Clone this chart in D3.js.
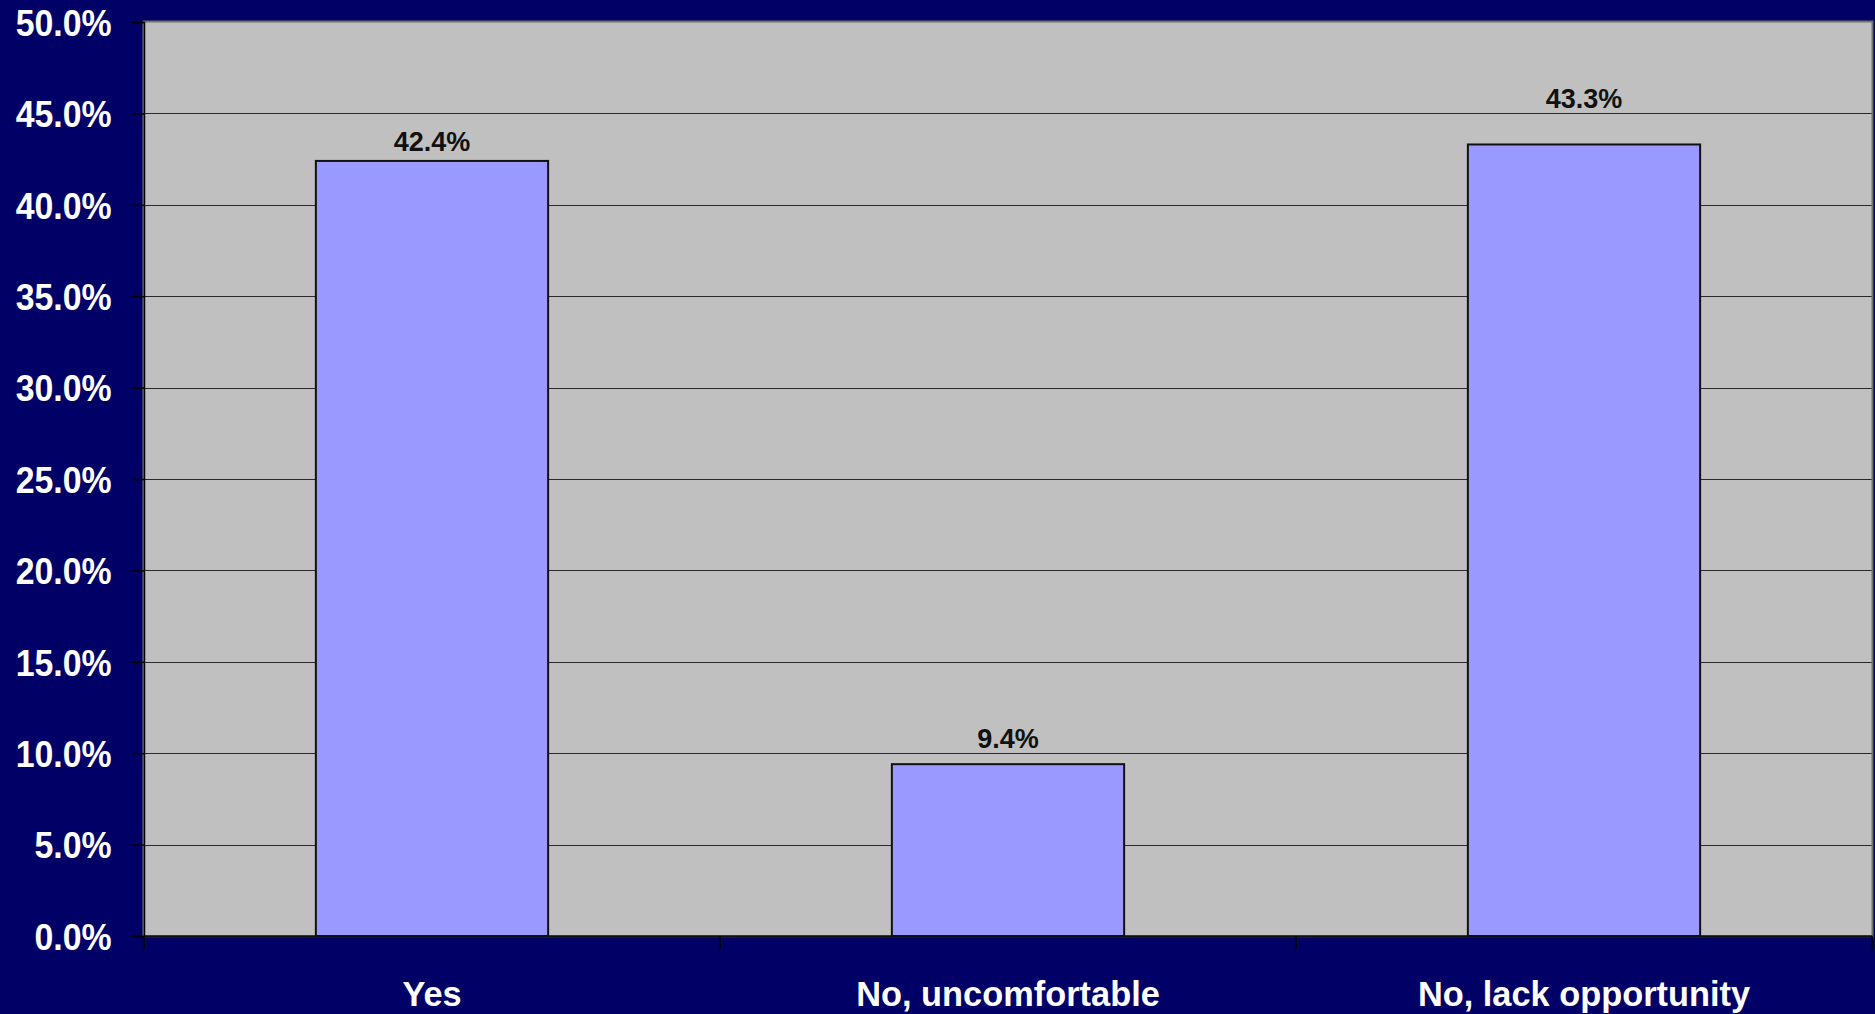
<!DOCTYPE html>
<html>
<head>
<meta charset="utf-8">
<script src="https://cdn.jsdelivr.net/npm/d3@7"></script>
<style>
  html, body { margin: 0; padding: 0; background: #000066; }
  svg { display: block; }
  text { font-family: "Liberation Sans", Arial, sans-serif; font-weight: bold; }
</style>
</head>
<body>
<svg id="chart" width="1875" height="1014"></svg>
<script>
const categories = ["Yes", "No, uncomfortable", "No, lack opportunity"];
const values = [42.4, 9.4, 43.3];
const valueLabels = ["42.4%", "9.4%", "43.3%"];
const yTicks = [0, 5, 10, 15, 20, 25, 30, 35, 40, 45, 50];
const yTickLabels = ["0.0%", "5.0%", "10.0%", "15.0%", "20.0%", "25.0%", "30.0%", "35.0%", "40.0%", "45.0%", "50.0%"];

const W = 1875, H = 1014;
const plot = { left: 144, top: 22, right: 1872, bottom: 936 };

const svg = d3.select("#chart");
svg.append("rect").attr("x", 0).attr("y", 0).attr("width", W).attr("height", H).attr("fill", "#000066");

const x = d3.scaleBand().domain(categories).range([plot.left, plot.right]).padding(0);
const y = d3.scaleLinear().domain([0, 50]).range([plot.bottom, plot.top]);

// plot background
svg.append("rect")
  .attr("x", plot.left).attr("y", plot.top)
  .attr("width", plot.right - plot.left).attr("height", plot.bottom - plot.top)
  .attr("fill", "#C0C0C0");

// gridlines
const gridVals = yTicks.filter(d => d > 0 && d < 50);
svg.append("g").selectAll("line").data(gridVals).join("line")
  .attr("x1", plot.left).attr("x2", plot.right)
  .attr("y1", d => Math.round(y(d)) + 0.5).attr("y2", d => Math.round(y(d)) + 0.5)
  .attr("stroke", "#2a2a2a").attr("stroke-width", 1);

// plot border
svg.append("rect")
  .attr("x", plot.left - 0.5).attr("y", plot.top - 0.5)
  .attr("width", plot.right - plot.left + 1).attr("height", plot.bottom - plot.top + 1)
  .attr("fill", "none").attr("stroke", "#707070").attr("stroke-width", 2);

// bars
const barW = x.bandwidth() / 2.48;
svg.append("g").selectAll("rect").data(values).join("rect")
  .attr("x", (d, i) => x(categories[i]) + x.bandwidth() / 2 - barW / 2)
  .attr("y", d => y(d))
  .attr("width", barW)
  .attr("height", d => plot.bottom - y(d))
  .attr("fill", "#9999FF")
  .attr("stroke", "#111")
  .attr("stroke-width", 2);

// value labels (moved above a gridline they would otherwise cross)
function labelBaseline(v) {
  let b = y(v) - 10;
  for (const g of gridVals) {
    const gy = y(g);
    if (gy > b - 24 && gy < b + 4) b = gy - 5;
  }
  return b;
}
svg.append("g").selectAll("text").data(values).join("text")
  .attr("x", (d, i) => x(categories[i]) + x.bandwidth() / 2)
  .attr("y", d => labelBaseline(d))
  .attr("text-anchor", "middle")
  .attr("font-size", 27)
  .attr("fill", "#111")
  .text((d, i) => valueLabels[i]);

// y axis
const yAxis = d3.axisLeft(y).tickValues(yTicks).tickSize(12).tickPadding(0)
  .tickFormat((d, i) => yTickLabels[i]);
const gy = svg.append("g").attr("transform", `translate(${plot.left},0)`).call(yAxis);
gy.select(".domain").attr("stroke", "#000").attr("stroke-width", 1.5);
gy.selectAll(".tick line").attr("stroke", "#000").attr("stroke-width", 1.5);
gy.selectAll(".tick text")
  .attr("x", 0).attr("dy", 0).attr("y", 0)
  .attr("transform", "translate(-32.3,13.3) scale(0.915,1)")
  .attr("fill", "#fff").attr("font-size", 37)
  .attr("font-family", "Liberation Sans, Arial, sans-serif").attr("font-weight", "bold");

// x axis
const xAxis = d3.axisBottom(x).tickSize(0).tickPadding(0);
const gx = svg.append("g").attr("transform", `translate(0,${plot.bottom})`).call(xAxis);
gx.select(".domain").attr("stroke", "#111").attr("stroke-width", 2.5);
gx.selectAll(".tick text")
  .attr("y", 0).attr("dy", 0)
  .attr("transform", "translate(0,70) scale(0.955,1)")
  .attr("fill", "#fff").attr("font-size", 36)
  .attr("font-family", "Liberation Sans, Arial, sans-serif").attr("font-weight", "bold");
// category separators
svg.append("g").selectAll("line").data(categories.concat(["__end"])).join("line")
  .attr("x1", (d, i) => i < categories.length ? x(d) : plot.right)
  .attr("x2", (d, i) => i < categories.length ? x(d) : plot.right)
  .attr("y1", plot.bottom).attr("y2", plot.bottom + 13)
  .attr("stroke", "#000").attr("stroke-width", 1.5);
</script>
</body>
</html>
